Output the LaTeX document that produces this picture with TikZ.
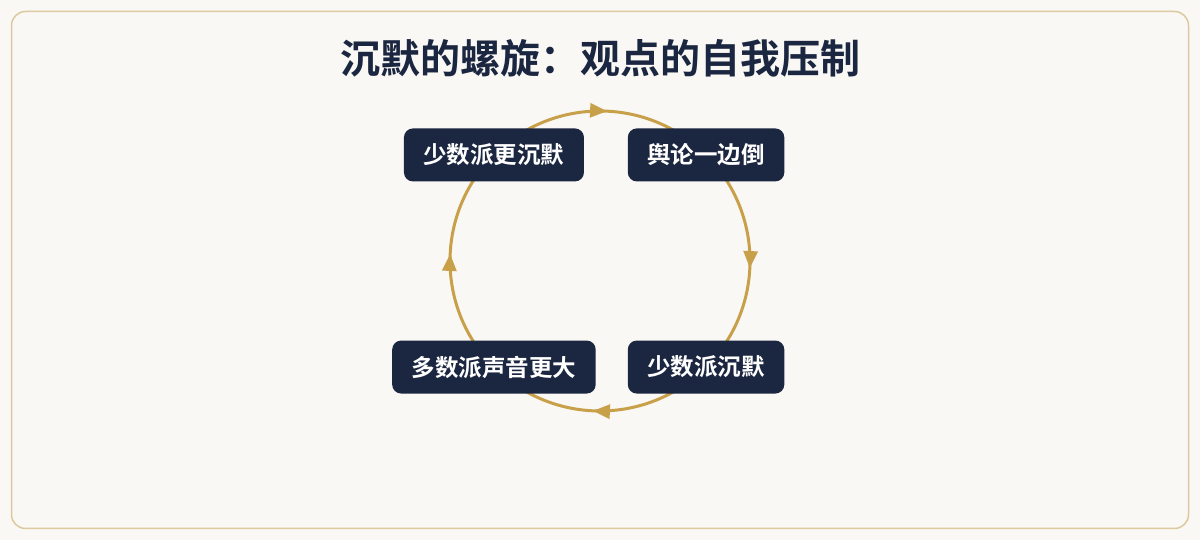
\documentclass[tikz,border=0pt]{standalone}
\usepackage{fontspec}
\setmainfont{Noto Sans CJK SC}[BoldFont={Noto Sans CJK SC Bold}]
\usepackage{tikz}
\usetikzlibrary{calc}
\usetikzlibrary{arrows.meta,backgrounds,decorations.markings}
\usepackage{xcolor}
\definecolor{navy}{HTML}{1B2640}
\definecolor{gold}{HTML}{C8A04A}
\definecolor{paper}{HTML}{FAF8F4}
\definecolor{rim}{HTML}{DCC9A0}

\begin{document}
\begin{tikzpicture}[x=1pt,y=1pt,
    stage/.style={fill=navy,text=white,rounded corners=9pt,
      font=\bfseries\fontsize{23.5}{28}\selectfont,
      minimum height=53pt,inner xsep=19.5pt,inner ysep=0pt},
    spiral/.style={draw=gold,line width=3pt,postaction={decorate},
      decoration={markings,mark=at position 0.53 with
        {\arrow{Triangle[length=17pt,width=14pt]}}}}]
    \useasboundingbox (0,0) rectangle (1200,540);
    \coordinate (O) at (600,279);
    \node[text=navy,font=\bfseries\fontsize{40}{48}\selectfont] (title) at (600,482)
      {沉默的螺旋：观点的自我压制};
    \node[stage] (quieter) at ($(O)+(135:150)$) {少数派更沉默};
    \node[stage] (onesided) at ($(O)+(45:150)$) {舆论一边倒};
    \node[stage] (silent) at ($(O)+(-45:150)$) {少数派沉默};
    \node[stage] (louder) at ($(O)+(-135:150)$) {多数派声音更大};
    \begin{scope}[on background layer]
      \fill[paper] (0,0) rectangle (1200,540);
      \draw[rim,fill=paper,line width=1.5pt,rounded corners=14pt]
        (11.5,11.5) rectangle (1188.5,528.5);
      \foreach \from/\a in {quieter/135,onesided/45,silent/-45,louder/-135}
        \draw[spiral] (\from.center) arc[start angle=\a,delta angle=-90,radius=150];
    \end{scope}
  \end{tikzpicture}
\end{document}
